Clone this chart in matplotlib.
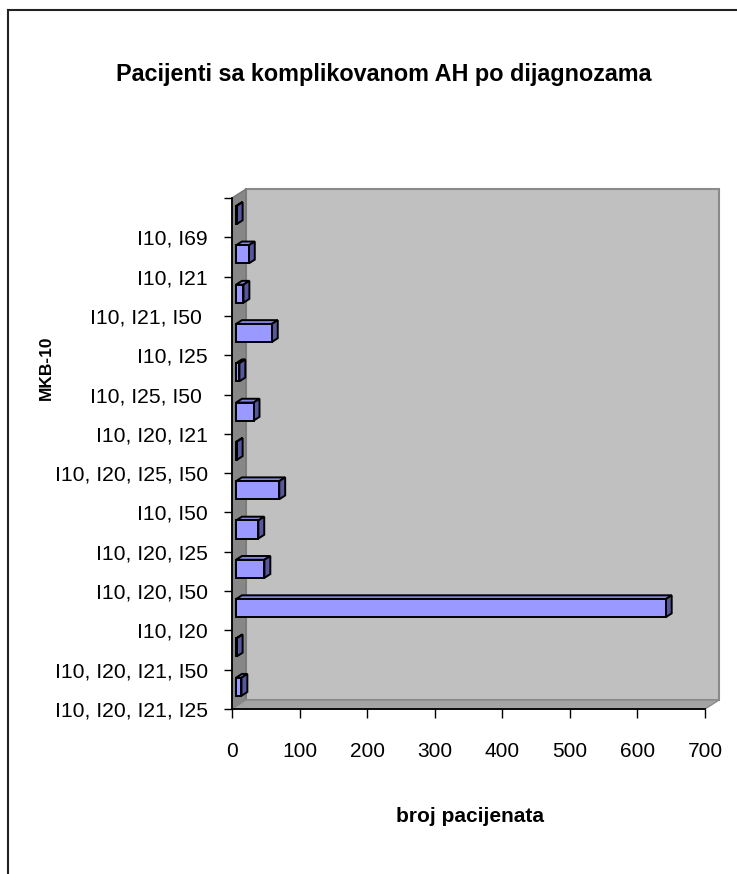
import matplotlib
matplotlib.use("Agg")
import matplotlib.pyplot as plt
from matplotlib.patches import Polygon, Rectangle
from matplotlib.lines import Line2D

plt.rcParams['font.family'] = ['Liberation Sans', 'DejaVu Sans']

# ---- data (bottom to top) ----
categories = ["I10, I20, I21, I25", "I10, I20, I21, I50", "I10, I20", "I10, I20, I50",
              "I10, I20, I25", "I10, I50", "I10, I20, I25, I50", "I10, I20, I21",
              "I10, I25, I50 ", "I10, I25", "I10, I21, I50 ", "I10, I21", "I10, I69"]
values = [8, 1, 636, 42, 33, 64, 1, 26, 5, 53, 11, 19, 1]
x_ticks = [0, 100, 200, 300, 400, 500, 600, 700]
title = "Pacijenti sa komplikovanom AH po dijagnozama"
x_label = "broj pacijenata"
y_label = "MKB-10"

W, H = 737, 874
fig = plt.figure(figsize=(W / 100, H / 100), dpi=100)

def fx(x):
    return x / W

def fy(y):
    return 1 - y / H

# front plane of the 3D box in pixels
L, R, T, B = 232, 705, 198, 709
ax = fig.add_axes([fx(L), fy(B), fx(R) - fx(L), fy(T) - fy(B)])
ax.set_facecolor('none')
n = len(categories)
ax.set_xlim(0, 700)
ax.set_ylim(-0.5, n - 0.5)

# depth offset in data units
px_x = (R - L) / 700.0
px_y = (B - T) / n
DX = 14 / px_x
DY = 9 / px_y

# walls
back = Rectangle((DX, -0.5 + DY), 700, n, facecolor='#C0C0C0', edgecolor='#8A8A8A',
                 lw=1.5, clip_on=False, zorder=0.5)
ax.add_patch(back)
left_wall = Polygon([(0, -0.5), (DX, -0.5 + DY), (DX, n - 0.5 + DY), (0, n - 0.5)],
                    closed=True, facecolor='#878787', edgecolor='#777777', lw=1.0,
                    clip_on=False, zorder=0.6)
ax.add_patch(left_wall)
floor = Polygon([(0, -0.5), (DX, -0.5 + DY), (700 + DX, -0.5 + DY), (700, -0.5)],
                closed=True, facecolor='#A4A4A4', edgecolor='#8A8A8A', lw=1.0,
                clip_on=False, zorder=0.6)
ax.add_patch(floor)

# bars
f0, f1 = 0.29, 0.71
g = f1 - f0
h = 0.46
x0 = f0 * DX
ys = [i + f0 * DY for i in range(n)]
ax.barh(ys, values, height=h, left=x0, color='#9999FF', edgecolor='black',
        lw=1.4, zorder=3, clip_on=False)
for yc, v in zip(ys, values):
    yt = yc + h / 2
    yb = yc - h / 2
    top = Polygon([(x0, yt), (x0 + v, yt), (x0 + v + g * DX, yt + g * DY),
                   (x0 + g * DX, yt + g * DY)], closed=True, facecolor='#8686DC',
                  edgecolor='black', lw=1.4, zorder=2.9, clip_on=False)
    side = Polygon([(x0 + v, yb), (x0 + v + g * DX, yb + g * DY),
                    (x0 + v + g * DX, yt + g * DY), (x0 + v, yt)], closed=True,
                   facecolor='#57579C', edgecolor='black', lw=1.4, zorder=2.9,
                   clip_on=False)
    ax.add_patch(top)
    ax.add_patch(side)

# axes styling
for s in ['top', 'right']:
    ax.spines[s].set_visible(False)
for s in ['left', 'bottom']:
    ax.spines[s].set_color('black')
    ax.spines[s].set_linewidth(1.3)
    ax.spines[s].set_zorder(5)

ax.set_xticks(x_ticks)
ax.set_xticklabels([str(t) for t in x_ticks])
ax.tick_params(axis='x', direction='out', length=6.5, width=1.0, pad=17,
               labelsize=15, colors='black')

yt_pos = [i - 0.5 for i in range(n + 1)]
yt_lab = categories + ['']
ax.set_yticks(yt_pos)
ax.set_yticklabels(yt_lab)
ax.tick_params(axis='y', direction='out', length=5.5, width=1.0, pad=12,
               labelsize=15.2, colors='black')

# texts
fig.text(fx(384), fy(75), title, ha='center', va='center', fontsize=16.8,
         fontweight='bold')
fig.text(fx(470), fy(816), x_label, ha='center', va='center', fontsize=15,
         fontweight='bold')
fig.text(fx(46), fy(368), y_label, ha='center', va='center', fontsize=12.5,
         fontweight='bold', rotation=90)

# chart-area frame (only top and left edges visible)
fig.add_artist(Line2D([fx(8), 1.0], [fy(10), fy(10)], color='#222222', lw=1.5))
fig.add_artist(Line2D([fx(8), fx(8)], [0.0, fy(10)], color='#222222', lw=1.5))

fig.savefig('out.png', dpi=100)
